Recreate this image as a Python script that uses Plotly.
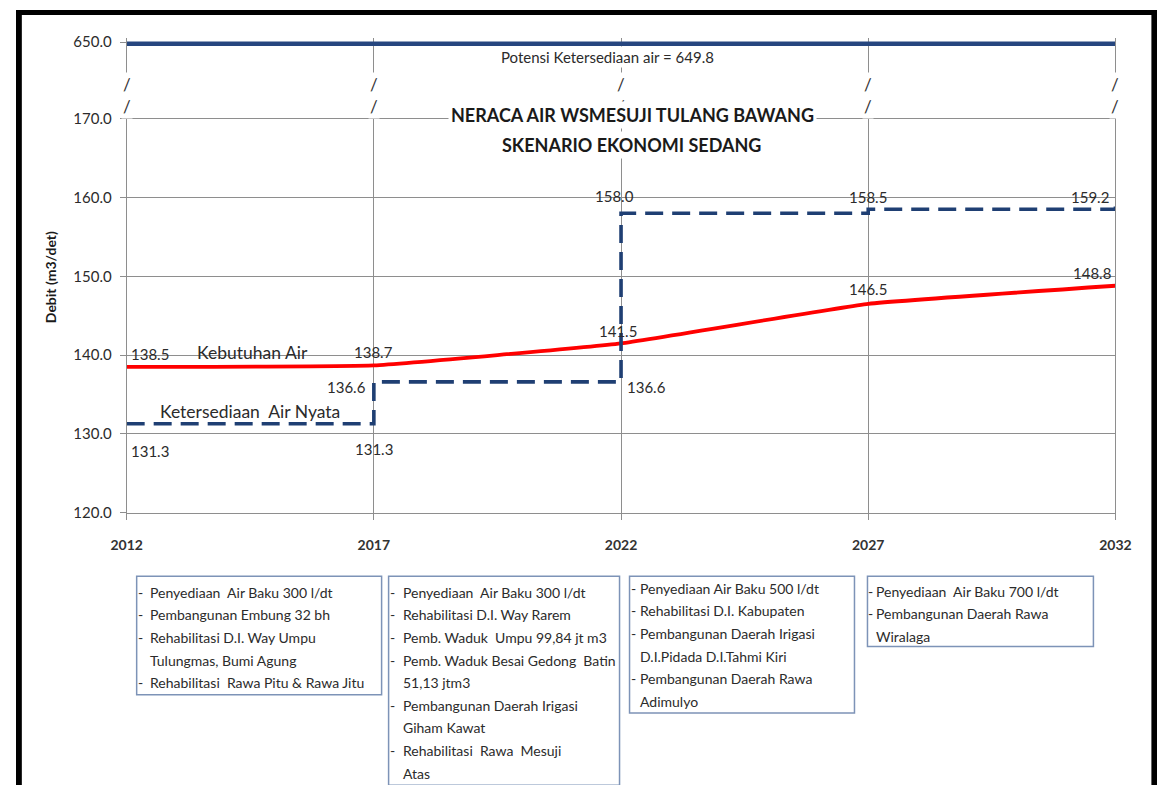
import plotly.graph_objects as go

# ---------------- data ----------------
years = [2012, 2017, 2022, 2027, 2032]
kebutuhan = [138.5, 138.7, 141.5, 146.5, 148.8]
nyata = [131.3, 136.6, 158.0, 158.5, 159.2]
nyata_before = [131.3, 131.3, 136.6]          # values just before the steps (2012, 2017, 2022)
potensi = 649.8
y_ticks = [120, 130, 140, 150, 160, 170]
y_top_ticks = [650]

box_lines = [
    ["- Penyediaan  Air Baku 300 l/dt",
     "- Pembangunan Embung 32 bh",
     "- Rehabilitasi D.I. Way Umpu",
     "Tulungmas, Bumi Agung",
     "- Rehabilitasi  Rawa Pitu & Rawa Jitu"],
    ["- Penyediaan  Air Baku 300 l/dt",
     "- Rehabilitasi D.I. Way Rarem",
     "- Pemb. Waduk  Umpu 99,84 jt m3",
     "- Pemb. Waduk Besai Gedong  Batin",
     "51,13 jtm3",
     "- Pembangunan Daerah Irigasi",
     "Giham Kawat",
     "- Rehabilitasi  Rawa  Mesuji",
     "Atas"],
    ["- Penyediaan Air Baku 500 l/dt",
     "- Rehabilitasi D.I. Kabupaten",
     "- Pembangunan Daerah Irigasi",
     "D.I.Pidada D.I.Tahmi Kiri",
     "- Pembangunan Daerah Rawa",
     "Adimulyo"],
    ["- Penyediaan  Air Baku 700 l/dt",
     "- Pembangunan Daerah Rawa",
     "Wiralaga"],
]

# ---------------- layout geometry ----------------
# figure pixel <-> photographed pixel calibration (measured from earlier renders)
SX, CX = 0.973, 15.3
SY, CY = 0.972, 10.0
FW, FH = 1174, 798
K = 1 / SX

def fx(s):
    return (s - CX) / SX

def fy(s):
    return (s - CY) / SY

def px(s):
    return fx(s) / FW

def py(s):
    return 1 - fy(s) / FH

FONT = "Lato"
TXT = "#2b2b2b"
GRID = "#8e8e8e"

fig = go.Figure()

fig.add_trace(go.Scatter(
    x=years, y=kebutuhan, mode="lines", name="Kebutuhan Air",
    line=dict(color="#ff0000", width=3.8, shape="spline", smoothing=0.3),
    xaxis="x", yaxis="y", showlegend=False))

fig.add_trace(go.Scatter(
    x=years, y=nyata, mode="lines", name="Ketersediaan Air Nyata",
    line=dict(color="#1f3f73", width=3.6, shape="hv", dash="18px,9px"),
    xaxis="x", yaxis="y", showlegend=False))

fig.add_trace(go.Scatter(
    x=[years[0], years[-1]], y=[potensi, potensi], mode="lines",
    line=dict(color="#26467f", width=4.6),
    xaxis="x2", yaxis="y2", showlegend=False))

ann = []
lab_font = dict(family=FONT, size=15, color=TXT)

# axis break marks (drawn first so titles sit on top)
for xv in years:
    for yy in (84, 106):
        ann.append(dict(x=xv, y=py(yy), xref="x", yref="paper", text="/", showarrow=False,
                        xanchor="center", yanchor="middle", bgcolor="white", borderpad=1,
                        font=dict(family=FONT, size=17, color="#333333")))

# Kebutuhan labels
keb_pos = [("left", 2, 13), ("center", 0, 13), ("center", -3, 12), ("center", 0, 14), ("right", -2, 12)]
for xv, yv, (xa, xs, ys) in zip(years, kebutuhan, keb_pos):
    ann.append(dict(x=xv, y=yv, xref="x", yref="y", text=f"{yv:.1f}", showarrow=False,
                    xanchor=xa, yanchor="middle", xshift=xs * K, yshift=ys * K, font=lab_font))

# Ketersediaan labels (before steps)
bef_pos = [("left", 2, -27), ("center", 0, -25), ("left", 4, -5)]
for xv, yv, (xa, xs, ys) in zip(years[:3], nyata_before, bef_pos):
    ann.append(dict(x=xv, y=yv, xref="x", yref="y", text=f"{yv:.1f}", showarrow=False,
                    xanchor=xa, yanchor="middle", xshift=xs * K, yshift=ys * K, font=lab_font))
# Ketersediaan labels (after steps)
aft_pos = [None, ("right", -6, -5), ("center", -6, 17), ("center", 0, 12), ("right", -4, 7)]
for xv, yv, p in zip(years, nyata, aft_pos):
    if p is None:
        continue
    xa, xs, ys = p
    ann.append(dict(x=xv, y=yv, xref="x", yref="y", text=f"{yv:.1f}", showarrow=False,
                    xanchor=xa, yanchor="middle", xshift=xs * K, yshift=ys * K, font=lab_font))

# series names
ann.append(dict(x=px(194), y=py(351), xref="paper", yref="paper", text="Kebutuhan Air",
                showarrow=False, xanchor="left", yanchor="middle",
                font=dict(family=FONT, size=17.5, color=TXT)))
ann.append(dict(x=px(157), y=py(409), xref="paper", yref="paper", text="Ketersediaan  Air Nyata",
                showarrow=False, xanchor="left", yanchor="middle",
                font=dict(family=FONT, size=17.5, color=TXT)))

# potensi label
ann.append(dict(x=px(607), y=py(57), xref="paper", yref="paper",
                text=f"Potensi Ketersediaan air = {potensi}", showarrow=False,
                xanchor="center", yanchor="middle", bgcolor="white",
                font=dict(family=FONT, size=15, color=TXT)))

# titles
ann.append(dict(x=px(632), y=py(114), xref="paper", yref="paper",
                text="<b>NERACA AIR WSMESUJI TULANG BAWANG</b>", showarrow=False,
                xanchor="center", yanchor="middle", bgcolor="white", borderpad=2,
                font=dict(family=FONT, size=18, color="#1a1a1a")))
ann.append(dict(x=px(631), y=py(144), xref="paper", yref="paper",
                text="<b>SKENARIO EKONOMI SEDANG</b>", showarrow=False,
                xanchor="center", yanchor="middle", bgcolor="white", borderpad=2,
                font=dict(family=FONT, size=18, color="#1a1a1a")))

# y-axis title
ann.append(dict(x=px(50), y=py(276), xref="paper", yref="paper",
                text="<b>Debit (m3/det)</b>", textangle=-90, showarrow=False,
                xanchor="center", yanchor="middle",
                font=dict(family=FONT, size=14, color="#1a1a1a")))

# boxes
shapes = []
boxes = [(136, 573, 381, 691, 11), (388, 573, 619, 781, 12),
         (629, 573, 854, 709, 8), (867, 573, 1093, 643, 7)]
first_off = [16, 16, 12, 15]
for (x0, y0, x1, y1, toff), lines, fo in zip(boxes, box_lines, first_off):
    shapes.append(dict(type="rect", xref="paper", yref="paper",
                       x0=px(x0), x1=px(x1), y0=py(y1), y1=py(y0),
                       line=dict(color="#7d93b7", width=1.5), fillcolor="rgba(0,0,0,0)"))
    for i, line in enumerate(lines):
        yy = y0 + fo + i * 22.5
        text = line
        if line.startswith("- "):
            ann.append(dict(x=px(x0 - 1), y=py(yy), xref="paper", yref="paper", text="-",
                            showarrow=False, xanchor="left", yanchor="middle",
                            font=dict(family=FONT, size=14, color=TXT)))
            text = line[2:]
        ann.append(dict(x=px(x0 + toff), y=py(yy), xref="paper", yref="paper",
                        text=text.replace("  ", "\u00a0 "), showarrow=False,
                        xanchor="left", yanchor="middle",
                        font=dict(family=FONT, size=14, color=TXT)))

# black frame
frame = [
    (0, 0, 6 / FW, 1),                         # left
    (0, py(15), 1, 1),                          # top
    (px(1151), 0, 1, 1),                        # right
    (0, 0, 1, py(781)),                         # bottom
]
for (x0, y0, x1, y1) in frame:
    shapes.append(dict(type="rect", xref="paper", yref="paper", x0=x0, x1=x1, y0=y0, y1=y1,
                       line=dict(width=0), fillcolor="black"))

xdom = [px(126), px(1115)]
fig.update_layout(
    width=FW, height=FH, margin=dict(l=0, r=0, t=0, b=0),
    paper_bgcolor="white", plot_bgcolor="white", showlegend=False,
    xaxis=dict(domain=xdom, anchor="y", range=[years[0], years[-1]], tickvals=years,
               ticktext=[str(y) for y in years], showgrid=True, gridcolor=GRID, gridwidth=1,
               showline=True, linecolor=GRID, mirror=True, ticks="outside", ticklen=6,
               tickcolor=GRID, ticklabelstandoff=13, zeroline=False,
               tickfont=dict(family=FONT, size=14, color="#333333", weight="bold")),
    yaxis=dict(domain=[py(510), py(118)], anchor="x", range=[120, 170], tickvals=y_ticks,
               ticktext=[f"{v:.1f}" for v in y_ticks], showgrid=True, gridcolor=GRID,
               gridwidth=1, showline=True, linecolor=GRID, mirror=True, ticks="outside",
               ticklen=6, tickcolor=GRID, ticklabelstandoff=5, zeroline=False,
               tickfont=dict(family=FONT, size=15, color=TXT)),
    xaxis2=dict(domain=xdom, anchor="y2", matches="x", range=[years[0], years[-1]],
                tickvals=years, showticklabels=False, showgrid=True, gridcolor=GRID,
                ticks="", showline=False, zeroline=False),
    yaxis2=dict(domain=[py(118), py(38)], anchor="x2", range=[640.5, 650.5],
                tickvals=y_top_ticks, ticktext=[f"{v:.1f}" for v in y_top_ticks],
                showgrid=False, showline=True, linecolor=GRID, mirror=True, ticks="outside",
                ticklen=6, tickcolor=GRID, ticklabelstandoff=5, zeroline=False,
                tickfont=dict(family=FONT, size=15, color=TXT)),
    annotations=ann, shapes=shapes,
)

fig.write_html("out.html")
